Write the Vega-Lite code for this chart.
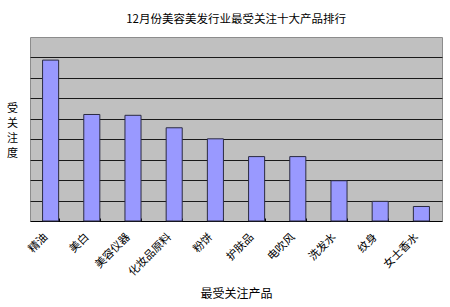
{
  "$schema": "https://vega.github.io/schema/vega-lite/v6.json",
  "width": 412,
  "height": 184,
  "autosize": {"type": "none"},
  "padding": {"left": 30, "top": 37, "right": 8, "bottom": 86},
  "background": "white",
  "title": {
    "text": "12月份美容美发行业最受关注十大产品排行",
    "font": "Noto Sans CJK SC",
    "fontSize": 11.5,
    "fontWeight": "normal",
    "color": "black",
    "anchor": "middle",
    "offset": 12
  },
  "data": {
    "values": [
      {"product": "精油", "value": 7.87},
      {"product": "美白", "value": 5.21},
      {"product": "美容仪器", "value": 5.17},
      {"product": "化妆品原料", "value": 4.56},
      {"product": "粉饼", "value": 4.02},
      {"product": "护肤品", "value": 3.15},
      {"product": "电吹风", "value": 3.15},
      {"product": "洗发水", "value": 1.97},
      {"product": "纹身", "value": 0.96},
      {"product": "女士香水", "value": 0.71}
    ]
  },
  "config": {
    "view": {"fill": "#C0C0C0", "stroke": "#8C8C8C", "strokeWidth": 1},
    "font": "Noto Sans CJK SC"
  },
  "mark": {"type": "bar", "color": "#9999FF", "stroke": "#2B2B40", "strokeWidth": 1},
  "encoding": {
    "x": {
      "field": "product",
      "type": "nominal",
      "sort": null,
      "scale": {"paddingInner": 0.61, "paddingOuter": 0.305},
      "axis": {
        "title": "最受关注产品",
        "titleFont": "Noto Sans CJK SC",
        "titleFontSize": 12,
        "titleFontWeight": "normal",
        "titleColor": "black",
        "titleY": 72,
        "titleBaseline": "middle",
        "labelAngle": -45,
        "labelAlign": "right",
        "labelBaseline": "middle",
        "labelFont": "Noto Sans CJK SC",
        "labelFontSize": 11,
        "labelColor": "black",
        "labelPadding": 17,
        "labelOffset": -5,
        "tickBand": "extent",
        "tickSize": -3,
        "tickColor": "black",
        "domainColor": "black",
        "grid": false
      }
    },
    "y": {
      "field": "value",
      "type": "quantitative",
      "scale": {"domain": [0, 9], "nice": false},
      "axis": {
        "title": ["受", "关", "注", "度"],
        "titleAngle": 0,
        "titleX": -18,
        "titleY": 71,
        "titleAlign": "center",
        "titleBaseline": "middle",
        "titleLineHeight": 15,
        "titleFont": "Noto Sans CJK SC",
        "titleFontSize": 11,
        "titleFontWeight": "normal",
        "titleColor": "black",
        "labels": false,
        "ticks": false,
        "domain": false,
        "grid": true,
        "gridColor": "#1a1a1a",
        "gridWidth": 1,
        "values": [1, 2, 3, 4, 5, 6, 7, 8]
      }
    }
  }
}
